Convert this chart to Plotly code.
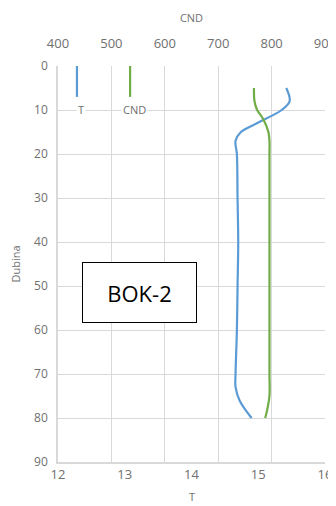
import plotly.graph_objects as go

# Data
t_depth = [5, 8, 10, 13, 15, 17, 20, 30, 40, 50, 60, 70, 73, 76, 80]
t_values = [15.42, 15.47, 15.35, 14.98, 14.74, 14.66, 14.68, 14.69, 14.70, 14.69, 14.68, 14.66, 14.66, 14.72, 14.90]

cnd_depth = [5, 8, 10, 12, 15, 17, 20, 30, 40, 50, 60, 70, 75, 78, 80]
cnd_values = [767, 768, 773, 784, 794, 796, 796, 796, 796, 796, 796, 796, 796, 792, 788]

t_ticks = [12, 13, 14, 15, 16]
cnd_ticks = [400, 500, 600, 700, 800, 900]
depth_ticks = [0, 10, 20, 30, 40, 50, 60, 70, 80, 90]

blue = "#5B9BD5"
green = "#70AD47"
grid = "#D9D9D9"
txt = "#707070"
font = "Open Sans"

fig = go.Figure()
fig.add_trace(go.Scatter(x=t_values, y=t_depth, mode="lines", name="T",
                         line=dict(color=blue, width=2.2, shape="spline", smoothing=1.0),
                         xaxis="x", yaxis="y"))
fig.add_trace(go.Scatter(x=cnd_values, y=cnd_depth, mode="lines", name="CND",
                         line=dict(color=green, width=2.2, shape="spline", smoothing=1.0),
                         xaxis="x2", yaxis="y"))

# page body has an 8px margin; margins compensate so the plot sits where the reference has it
fig.update_layout(
    width=336, height=506,
    margin=dict(l=50, r=19, t=58, b=52),
    paper_bgcolor="white", plot_bgcolor="white",
    showlegend=False,
    font=dict(family=font, size=12, color=txt),
    xaxis=dict(range=[12, 16], tickvals=t_ticks, showgrid=False, zeroline=False,
               showline=True, linecolor=grid, linewidth=1.5, ticks="",
               automargin=False, ticklabelstandoff=0, ticklabeloverflow="allow",
               tickfont=dict(size=13, color=txt)),
    xaxis2=dict(range=[400, 900], tickvals=cnd_ticks, overlaying="x", side="top",
                showgrid=True, gridcolor=grid, gridwidth=1, zeroline=False, ticks="",
                automargin=False, ticklabelstandoff=14, ticklabeloverflow="allow",
                tickfont=dict(size=13, color=txt),
                title=dict(text="CND", font=dict(size=11, color=txt), standoff=9)),
    yaxis=dict(range=[90, 0], tickvals=depth_ticks, showgrid=True, gridcolor=grid,
               gridwidth=1, zeroline=False, showline=True, linecolor=grid, linewidth=1.5,
               ticks="", automargin=False, ticklabelstandoff=6,
               tickfont=dict(size=12, color=txt),
               title=dict(text="Dubina", font=dict(size=11, color=txt), standoff=16)),
)

# bottom axis title
fig.add_annotation(xref="paper", yref="paper", x=0.5, y=-0.088, text="T", showarrow=False,
                   xanchor="center", yanchor="middle", font=dict(size=11, color=txt))

# legend drawn as vertical line samples
fig.add_shape(type="line", xref="paper", yref="paper", x0=0.071, x1=0.071, y0=0.922, y1=1.0,
              line=dict(color=blue, width=2.2))
fig.add_shape(type="line", xref="paper", yref="paper", x0=0.27, x1=0.27, y0=0.922, y1=1.0,
              line=dict(color=green, width=2.2))
fig.add_annotation(xref="paper", yref="paper", x=0.086, y=0.891, text="T", showarrow=False,
                   xanchor="center", yanchor="middle",
                   font=dict(size=11, color=txt), bgcolor="white")
fig.add_annotation(xref="paper", yref="paper", x=0.285, y=0.891, text="CND", showarrow=False,
                   xanchor="center", yanchor="middle",
                   font=dict(size=11, color=txt), bgcolor="white")

# BOK-2 label box
fig.add_annotation(xref="paper", yref="paper", x=0.305, y=0.427, text="BOK-2", showarrow=False,
                   xanchor="center", yanchor="middle",
                   font=dict(size=22, color="black", family=font), bgcolor="white",
                   bordercolor="black", borderwidth=1, width=111, height=57)

fig.write_html("out.html")
